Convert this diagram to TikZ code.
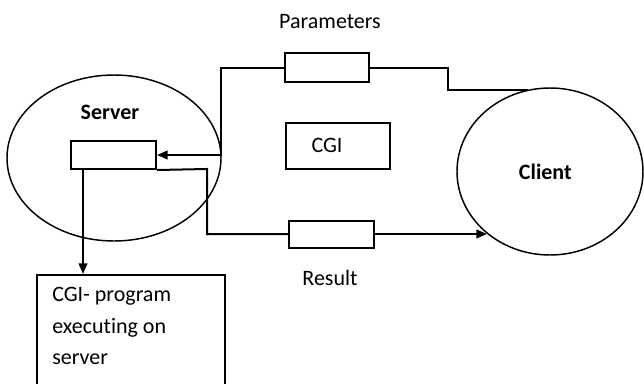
\documentclass[tikz,border=0pt]{standalone}
\usepackage{fontspec}
\setmainfont{Carlito}[Ligatures={NoCommon,NoRequired,NoContextual}]
\usetikzlibrary{arrows.meta,shapes.geometric}
\begin{document}
\begin{tikzpicture}[x=0.75pt,y=-0.75pt,
  every node/.style={font=\fontsize{16.5}{23.6}\selectfont},
  box/.style={draw,line width=1.5pt,inner sep=0pt},
  oval/.style={draw,ellipse,line width=1.1pt,inner sep=0pt},
  wire/.style={line width=1.5pt},
  tip/.style={-{Triangle[length=8pt,width=6.5pt]}}]
\useasboundingbox (0,0) rectangle (644,383);
\clip (0,0) rectangle (644,383);
% ellipses
\node[oval,minimum width=160.5pt,minimum height=124.5pt] (server) at (114,158) {};
\node[font=\fontsize{16.5}{20}\selectfont\bfseries] (slabel) at (110,112) {Server};
\node[oval,minimum width=139.5pt,minimum height=125.25pt,font=\fontsize{16.5}{20}\selectfont\bfseries] (client) at (550,171.5) {\hspace*{-7pt}Client};
% boxes
\node[box,minimum width=63.75pt,minimum height=21pt] (sbox) at (113.5,155) {};
\node[box,minimum width=63pt,minimum height=21.75pt] (params) at (327,67.5) {};
\node (plabel) at (330,22) {Parameters};
\node[box,minimum width=78pt,minimum height=34.5pt] (cgi) at (338,146) {};
\node (cgitext) at (327,145) {CGI};
\node[box,minimum width=63.75pt,minimum height=20.25pt] (result) at (331.5,234) {};
\node (rlabel) at (330,278) {Result};
\node[box,minimum width=141pt,minimum height=93pt,anchor=north west] (prog) at (36,274) {};
\node[anchor=north west,align=left,inner sep=0pt] (progtext) at (52,287) {CGI- program\\executing on\\server};
% coordinates
\coordinate (ctop) at (528,90);
\coordinate (cleft) at (487,234);
\coordinate (down) at (83,169);
% parameters path
\draw[wire] (ctop) -- (448,90) -- (448,67.5) -- (params.east);
\draw[wire,tip] (params.west) -- (221,67.5) -- (221,155) -- (sbox.east);
% result path
\draw[wire] (sbox.south east) -- (207,169) -- (207,234) -- (result.west);
\draw[wire,tip] (result.east) -- (cleft);
% down arrow
\draw[wire,tip] (down) -- (down |- prog.north);
\end{tikzpicture}
\end{document}
